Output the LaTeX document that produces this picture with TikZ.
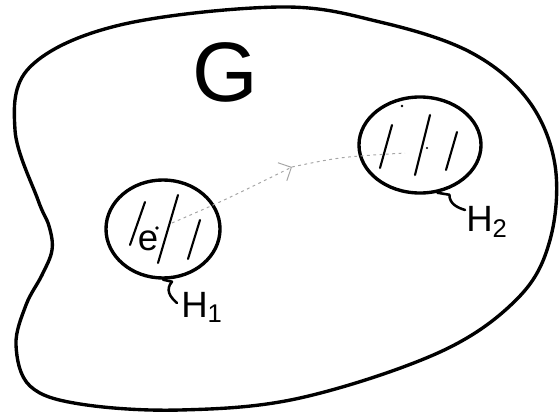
\documentclass[tikz,border=0pt]{standalone}
\usepackage{fontspec}
\setmainfont{Liberation Sans}
\usetikzlibrary{shapes.geometric, arrows.meta}

\begin{document}
\begin{tikzpicture}[
    x=0.025cm, y=-0.025cm,
    outline/.style={line width=2.4pt, line join=round},
    sub/.style={draw, ellipse, line width=2.4pt, inner sep=0pt},
    hatch/.style={line width=1.5pt, line cap=round},
    hook/.style={line width=1.8pt, line cap=round, line join=round},
    walk/.style={gray!70, line width=0.7pt, dash pattern=on 2pt off 2.5pt},
    tag/.style={inner sep=0pt, font=\fontsize{26}{26}\selectfont}
]
\useasboundingbox (0,0) rectangle (559,420);

% Graph G
\draw[outline] plot[smooth cycle, tension=0.6] coordinates {
    (280,7) (380,22) (470,52) (528,100) (555,165) (550,240) (518,298)
    (440,352) (300,398) (180,410) (80,404) (30,386) (16,345) (26,305)
    (42,275) (52,250) (49,226) (38,200) (15,130) (30,67) (120,25)};
\node[inner sep=0pt, font=\fontsize{60}{60}\selectfont] (glabel) at (225,72) {G};

% Subgraphs
\node[sub, minimum width=2.85cm, minimum height=2.45cm] (hone) at (163,229) {};
\node[sub, minimum width=3.05cm, minimum height=2.4cm] (htwo) at (420,145) {};

% Hatching
\draw[hatch] (145,202) -- (130,245);
\draw[hatch] (178,195) -- (158,263);
\draw[hatch] (200,220) -- (188,259);
\draw[hatch] (392,125) -- (380,168);
\draw[hatch] (430,115) -- (415,175);
\draw[hatch] (457,132) -- (446,170);

% Edge e
\fill (157,228) circle[radius=1.4pt];
\node[tag] (elabel) at (148,241) {e};
\fill (402,106) circle[radius=1pt];
\fill (427,148) circle[radius=0.8pt];

% Walk from H1 to H2
\coordinate (wstart) at (172,223);
\coordinate (wmid) at (292,167);
\coordinate (wend) at (405,153);
\draw[walk, -{Straight Barb[length=2.5mm, width=5mm]}] (wstart) .. controls (225,200) .. (wmid);
\draw[walk] (wmid) .. controls (340,157) .. (wend);

% Labels
\node[tag, anchor=north west] (lone) at (181,292) {H\textsubscript{1}};
\node[tag, anchor=north west] (ltwo) at (466,206) {H\textsubscript{2}};
\coordinate (ponetip) at (177,303);
\coordinate (ptwotip) at (465,210);
\draw[hook] (hone.south) -- ++(9,2) .. controls +(-7,8) and +(-7,-6) .. (ponetip);
\draw[hook] (htwo.290) -- ++(12,2) .. controls +(0,10) and +(-6,-2) .. (ptwotip);

\end{tikzpicture}
\end{document}
